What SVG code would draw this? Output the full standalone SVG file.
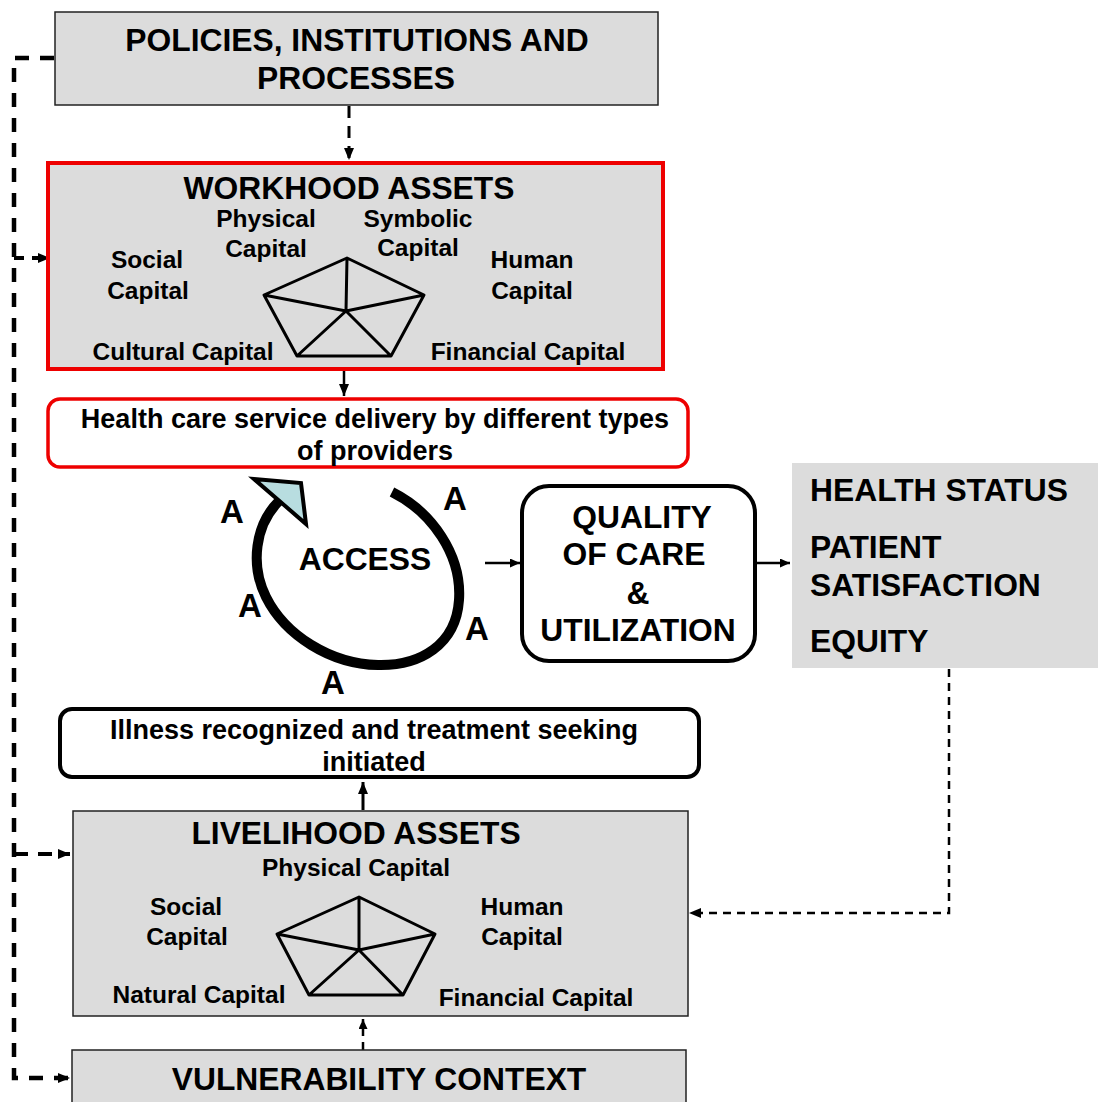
<svg xmlns="http://www.w3.org/2000/svg" width="1098" height="1102" viewBox="0 0 1098 1102">
<defs>
<marker id="ah" viewBox="0 0 12 10" refX="12" refY="5" markerWidth="12" markerHeight="10" markerUnits="userSpaceOnUse" orient="auto">
<path d="M0,0 L12,5 L0,10 z" fill="#000"/>
</marker>
<marker id="ahs" viewBox="0 0 10 9" refX="10" refY="4.5" markerWidth="10" markerHeight="9" markerUnits="userSpaceOnUse" orient="auto">
<path d="M0,0 L10,4.5 L0,9 z" fill="#000"/>
</marker>
</defs>
<style>
text{font-family:"Liberation Sans",Arial,Helvetica,sans-serif;font-weight:bold;fill:#000;text-anchor:middle}
.t{font-size:31.8px}
.l{font-size:24.5px}
.m{font-size:27px}
.a{font-size:33px}
.left{text-anchor:start}
.gray{fill:#dcdcdc;stroke:#222;stroke-width:1.5}
.conn{fill:none;stroke:#000}
.dash{stroke-dasharray:12 8}
.pent{fill:none;stroke:#000;stroke-width:3;stroke-linejoin:round}
</style>
<rect width="1098" height="1102" fill="#fff"/>

<g id="connectors">
<path class="conn" d="M54,58 H14 V1078 H70" stroke-width="4.5" stroke-dasharray="14 11" marker-end="url(#ah)"/>
<line class="conn" x1="14" y1="258" x2="50" y2="258" stroke-width="4" stroke-dasharray="10 8" marker-end="url(#ah)"/>
<line class="conn" x1="14" y1="854" x2="70" y2="854" stroke-width="4" stroke-dasharray="14 10" marker-end="url(#ah)"/>
<line class="conn dash" x1="349" y1="106" x2="349" y2="160" stroke-width="3" marker-end="url(#ah)"/>
<line class="conn" x1="344" y1="371" x2="344" y2="396" stroke-width="2.5" marker-end="url(#ah)"/>
<line class="conn" x1="485" y1="563" x2="520" y2="563" stroke-width="2.5" marker-end="url(#ahs)"/>
<line class="conn" x1="757" y1="563" x2="790" y2="563" stroke-width="2.5" marker-end="url(#ahs)"/>
<line class="conn" x1="363" y1="810" x2="363" y2="782" stroke-width="3" marker-end="url(#ah)"/>
<line class="conn" x1="363" y1="1050" x2="363" y2="1019" stroke-width="2.5" stroke-dasharray="8 6" marker-end="url(#ahs)"/>
<path class="conn" d="M949,669 V913 H689" stroke-width="2.5" stroke-dasharray="8 6" marker-end="url(#ah)"/>
</g>

<g id="policies">
<rect class="gray" x="55" y="12" width="603" height="93"/>
<text class="t" x="357" y="51">POLICIES, INSTITUTIONS AND</text>
<text class="t" x="356" y="89">PROCESSES</text>
</g>

<g id="workhood">
<rect x="48" y="163" width="615" height="206" fill="#dcdcdc" stroke="#ee0000" stroke-width="4"/>
<text class="t" x="349" y="199">WORKHOOD ASSETS</text>
<text class="l" x="266" y="227">Physical</text>
<text class="l" x="266" y="257">Capital</text>
<text class="l" x="418" y="227">Symbolic</text>
<text class="l" x="418" y="256">Capital</text>
<text class="l" x="147" y="268">Social</text>
<text class="l" x="148" y="299">Capital</text>
<text class="l" x="532" y="268">Human</text>
<text class="l" x="532" y="299">Capital</text>
<text class="l" x="183" y="360">Cultural Capital</text>
<text class="l" x="528" y="360">Financial Capital</text>
<path class="pent" d="M347,258 L424,295 L391,356 L297,356 L264,295 Z M347,258 L346,311 L424,295 M346,311 L391,356 M346,311 L297,356 M346,311 L264,295"/>
</g>

<g id="healthcare">
<rect x="48" y="399" width="640" height="68" rx="12" fill="#fff" stroke="#ee0000" stroke-width="3.5"/>
<text class="m" x="375" y="428">Health care service delivery by different types</text>
<text class="m" x="375" y="460">of providers</text>
</g>

<g id="access">
<path d="M392,492 C432,512 462,555 459,600 C456,645 420,666 378,665 C330,664 285,635 266,597 C250,565 255,525 279,501" fill="none" stroke="#000" stroke-width="10"/>
<polygon points="254,479 301,483 306,524" fill="#b8dde0" stroke="#000" stroke-width="4" stroke-linejoin="miter"/>
<text class="t" x="365" y="570">ACCESS</text>
<text class="a" x="232" y="523">A</text>
<text class="a" x="455" y="510">A</text>
<text class="a" x="250" y="617">A</text>
<text class="a" x="477" y="640">A</text>
<text class="a" x="333" y="694">A</text>
</g>

<g id="quality">
<rect x="522" y="486" width="233" height="175" rx="27" fill="#fff" stroke="#000" stroke-width="4"/>
<text class="t" x="642" y="528">QUALITY</text>
<text class="t" x="634" y="565">OF CARE</text>
<text class="t" x="638" y="604">&amp;</text>
<text class="t" x="638" y="641">UTILIZATION</text>
</g>

<g id="outcomes">
<rect x="792" y="463" width="306" height="205" fill="#dcdcdc"/>
<text class="t left" x="810" y="501">HEALTH STATUS</text>
<text class="t left" x="810" y="558">PATIENT</text>
<text class="t left" x="810" y="596">SATISFACTION</text>
<text class="t left" x="810" y="652">EQUITY</text>
</g>

<g id="illness">
<rect x="60" y="709" width="639" height="68" rx="12" fill="#fff" stroke="#000" stroke-width="4"/>
<text class="m" x="374" y="739">Illness recognized and treatment seeking</text>
<text class="m" x="374" y="771">initiated</text>
</g>

<g id="livelihood">
<rect class="gray" x="73" y="811" width="615" height="205"/>
<text class="t" x="356" y="844">LIVELIHOOD ASSETS</text>
<text class="l" x="356" y="876">Physical Capital</text>
<text class="l" x="186" y="915">Social</text>
<text class="l" x="187" y="945">Capital</text>
<text class="l" x="522" y="915">Human</text>
<text class="l" x="522" y="945">Capital</text>
<text class="l" x="199" y="1003">Natural Capital</text>
<text class="l" x="536" y="1006">Financial Capital</text>
<path class="pent" d="M359,897 L435,934 L403,995 L309,995 L277,934 Z M359,897 L359,950 L435,934 M359,950 L403,995 M359,950 L309,995 M359,950 L277,934"/>
</g>

<g id="vulnerability">
<rect class="gray" x="72" y="1050" width="614" height="60"/>
<text class="t" x="379" y="1090">VULNERABILITY CONTEXT</text>
</g>
</svg>
